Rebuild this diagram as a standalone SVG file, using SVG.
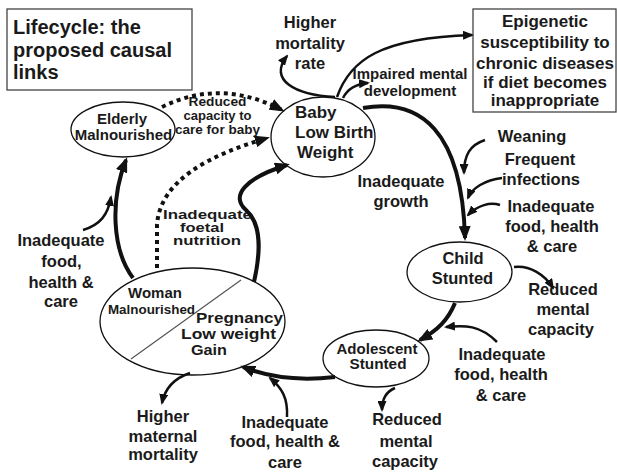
<svg xmlns="http://www.w3.org/2000/svg" width="617" height="473" viewBox="0 0 617 473">
<style>
.t{font-family:"Liberation Sans",Arial,sans-serif;font-weight:bold;fill:#1a1a1a}
.c{text-anchor:middle}
.s165{font-size:16.5px}
.node ellipse{fill:#fff;stroke:#111;stroke-width:1.3}
.box{fill:#fff;stroke:#444;stroke-width:1.3}
.thick{fill:none;stroke:#111;stroke-width:4}
.thin{fill:none;stroke:#111;stroke-width:2.5}
.dot{fill:none;stroke:#111;stroke-width:4;stroke-dasharray:4 4}
</style>
<defs>
<marker id="ah" markerUnits="userSpaceOnUse" markerWidth="15" markerHeight="12" refX="12" refY="6" orient="auto"><path d="M0,0 L15,6 L0,12 z" fill="#111"/></marker>
<marker id="as" markerUnits="userSpaceOnUse" markerWidth="11" markerHeight="9" refX="9" refY="4.5" orient="auto"><path d="M0,0 L11,4.5 L0,9 z" fill="#111"/></marker>
</defs>
<rect width="617" height="473" fill="#fff"/>

<g id="title">
<rect class="box" x="7" y="9" width="185" height="81"/>
<text class="t" font-size="20" x="13" y="34">Lifecycle: the</text>
<text class="t" font-size="20" x="13" y="57">proposed causal</text>
<text class="t" font-size="20" x="13" y="79">links</text>
</g>

<g id="epigenetic">
<rect class="box" x="473" y="9" width="143" height="103"/>
<g class="t c" font-size="17">
<text x="545" y="27">Epigenetic</text>
<text x="545" y="48">susceptibility to</text>
<text x="545" y="69">chronic diseases</text>
<text x="545" y="88">if diet becomes</text>
<text x="545" y="106">inappropriate</text>
</g>
</g>

<g id="baby" class="node">
<ellipse cx="323" cy="137" rx="52" ry="40"/>
<g class="t" font-size="17">
<text x="295" y="118">Baby</text>
<text x="295" y="138">Low Birth</text>
<text x="297" y="158">Weight</text>
</g>
</g>

<g id="elderly" class="node">
<ellipse cx="123" cy="129.5" rx="52" ry="27.5"/>
<g class="t c" font-size="15">
<text x="122" y="124">Elderly</text>
<text x="123.5" y="140">Malnourished</text>
</g>
</g>

<g id="child" class="node">
<ellipse cx="459.5" cy="272" rx="52.5" ry="30"/>
<g class="t c s165">
<text x="463" y="264">Child</text>
<text x="462.5" y="284">Stunted</text>
</g>
</g>

<g id="adolescent" class="node">
<ellipse cx="376" cy="358.5" rx="53" ry="28.5"/>
<g class="t c" font-size="14">
<text x="377" y="353.5" textLength="81" lengthAdjust="spacingAndGlyphs">Adolescent</text>
<text x="378" y="368.5" textLength="57" lengthAdjust="spacingAndGlyphs">Stunted</text>
</g>
</g>

<g id="woman" class="node">
<ellipse cx="192.5" cy="321.5" rx="92.5" ry="53.5"/>
<line x1="131" y1="359" x2="241" y2="280" stroke="#555" stroke-width="1.2"/>
<text class="t c" font-size="15" x="155" y="298">Woman</text>
<text class="t c" font-size="13.4" x="151.5" y="314">Malnourished</text>
<text class="t" font-size="15.5" x="196" y="323" textLength="87" lengthAdjust="spacingAndGlyphs">Pregnancy</text>
<text class="t" font-size="15.5" x="181" y="338.5" textLength="95" lengthAdjust="spacingAndGlyphs">Low weight</text>
<text class="t" font-size="15.5" x="191" y="354.5" textLength="36" lengthAdjust="spacingAndGlyphs">Gain</text>
</g>

<g id="labels" class="t c">
<g id="lbl-mortality" class="s165"><text x="310" y="28">Higher</text><text x="310" y="49">mortality</text><text x="310" y="69">rate</text></g>
<g id="lbl-impaired" font-size="15"><text x="410" y="79">Impaired mental</text><text x="410" y="96">development</text></g>
<g id="lbl-reduced-care" font-size="13"><text x="217.5" y="106" textLength="58" lengthAdjust="spacingAndGlyphs">Reduced</text><text x="217.5" y="120" textLength="68" lengthAdjust="spacingAndGlyphs">capacity to</text><text x="217.5" y="134" textLength="85" lengthAdjust="spacingAndGlyphs">care for baby</text></g>
<g id="lbl-weaning" class="s165"><text x="532" y="142">Weaning</text></g>
<g id="lbl-infections" class="s165"><text x="540" y="165">Frequent</text><text x="541" y="185">infections</text></g>
<g id="lbl-food1" class="s165"><text x="551" y="212">Inadequate</text><text x="552" y="232">food, health</text><text x="552" y="252">&amp; care</text></g>
<g id="lbl-growth" class="s165"><text x="401" y="187">Inadequate</text><text x="401" y="207">growth</text></g>
<g id="lbl-reduced1" class="s165"><text x="563" y="295">Reduced</text><text x="563" y="315">mental</text><text x="561" y="335">capacity</text></g>
<g id="lbl-food2" class="s165"><text x="502" y="360">Inadequate</text><text x="501" y="380">food, health</text><text x="501" y="401">&amp; care</text></g>
<g id="lbl-reduced2" class="s165"><text x="407" y="425">Reduced</text><text x="406" y="447">mental</text><text x="405" y="467">capacity</text></g>
<g id="lbl-food3" class="s165"><text x="285" y="428">Inadequate</text><text x="285" y="447">food, health &amp;</text><text x="285" y="468">care</text></g>
<g id="lbl-maternal" class="s165"><text x="163" y="422">Higher</text><text x="163" y="442">maternal</text><text x="163" y="460">mortality</text></g>
<g id="lbl-food4" class="s165"><text x="61" y="246">Inadequate</text><text x="61.5" y="267">food,</text><text x="61" y="288">health &amp;</text><text x="61" y="307">care</text></g>
<g id="lbl-foetal" font-size="12"><text x="207.5" y="219" textLength="89" lengthAdjust="spacingAndGlyphs">Inadequate</text><text x="202" y="232" textLength="44" lengthAdjust="spacingAndGlyphs">foetal</text><text x="207" y="245" textLength="68" lengthAdjust="spacingAndGlyphs">nutrition</text></g>
</g>

<g id="connectors">
<path class="thick" marker-end="url(#ah)" d="M363,108 C420,98 462,130 465,238"/>
<path class="thick" marker-end="url(#ah)" d="M455,303 C448,320 438,330 420,340"/>
<path class="thick" marker-end="url(#ah)" d="M335,377 C300,381 270,378 243,367"/>
<path class="thick" marker-end="url(#ah)" d="M254,282 C260,255 263,225 246,210 C230,196 245,178 287,165"/>
<path class="thick" marker-end="url(#ah)" d="M133,278 C112,250 110,200 126,160"/>
<path class="dot" marker-end="url(#ah)" d="M162,107 Q220,78 282,110"/>
<path class="dot" marker-end="url(#ah)" d="M157,268 L157,225 C160,180 210,155 267,138"/>
<path class="thin" marker-end="url(#as)" d="M335,97 C295,95 268,80 287,56"/>
<path class="thin" marker-end="url(#as)" d="M337,97 C350,60 380,38 472,35"/>
<path class="thin" marker-end="url(#as)" d="M343,98 C348,88 356,84 368,83"/>
<path class="thin" marker-end="url(#as)" d="M485,140 C470,145 464,155 464,173"/>
<path class="thin" marker-end="url(#as)" d="M502,178 C485,180 472,188 468,198"/>
<path class="thin" marker-end="url(#as)" d="M500,205 C490,202 478,205 468,215"/>
<path class="thin" marker-end="url(#as)" d="M514,267 C530,265 545,275 553,288"/>
<path class="thin" marker-end="url(#as)" d="M497,342 C480,325 465,325 446,327"/>
<path class="thin" marker-end="url(#as)" d="M395,388 C385,392 382,400 382,410"/>
<path class="thin" marker-end="url(#as)" d="M287,417 C288,398 282,388 270,378"/>
<path class="thin" marker-end="url(#as)" d="M190,373 C175,378 165,388 162,403"/>
<path class="thin" marker-end="url(#as)" d="M83,230 C100,225 108,215 111,197"/>
</g>
</svg>
